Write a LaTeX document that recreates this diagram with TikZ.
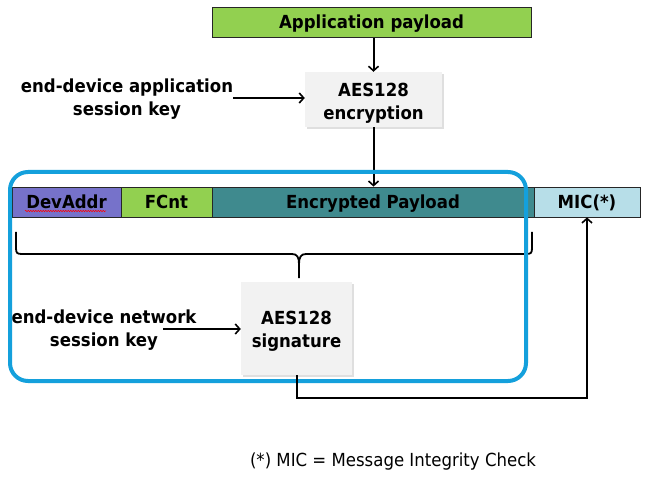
\documentclass[tikz,border=0pt]{standalone}
\usepackage{fontspec}
\setmainfont{DejaVu Sans}[FakeStretch=0.92]
\usetikzlibrary{arrows.meta,shadows,decorations.pathmorphing}
\definecolor{pgreen}{HTML}{92D050}
\definecolor{pdev}{HTML}{7672CA}
\definecolor{pteal}{HTML}{3F8A8E}
\definecolor{pmic}{HTML}{B7DEE8}
\definecolor{pblue}{HTML}{14A0DC}
\definecolor{pgray}{HTML}{F2F2F2}
\tikzset{
  fld/.style={draw=black!85, line width=0.8pt, inner sep=0pt, minimum height=30pt, text height=13pt, text depth=0pt, font=\fontsize{18}{22}\selectfont\bfseries},
  graybox/.style={fill=pgray, inner sep=0pt,
    drop shadow={opacity=0.25, shadow xshift=2pt, shadow yshift=-2pt}},
  lbl/.style={align=center, inner sep=0pt, font=\fontsize{18}{22.5}\selectfont\bfseries},
  conn/.style={line width=2pt, -{Straight Barb[length=4.5pt,width=10pt,line width=1.6pt]}},
  frame/.style={draw=pblue, line width=4pt, rounded corners=18pt},
}
\begin{document}
\begin{tikzpicture}[x=1pt,y=-1pt]
\useasboundingbox[fill=white] (0,0) rectangle (658,478);
% top
\node[fld, fill=pgreen, minimum width=319pt] (app) at (371.5,22.5) {Application payload};
\node[graybox, minimum width=137pt, minimum height=55pt,
  label={[lbl, yshift=-4pt]center:{AES128\\encryption}}] (enc) at (373.5,99.5) {};
\node[lbl] (appkey) at (127,99) {end-device application\\session key};
\draw[conn] (appkey.east |- 0,98) -- (enc.west |- 0,98);
\draw[conn] (app.south -| enc.north) -- (enc.north);
% frame row
\node[fld, fill=pdev, minimum width=109pt] (dev) at (66.5,202) {DevAddr};
\node[fld, fill=pgreen, minimum width=91pt] (fcnt) at (166.5,202) {FCnt};
\node[fld, fill=pteal, minimum width=322pt] (encp) at (373,202) {Encrypted Payload};
\node[fld, fill=pmic, minimum width=106pt] (mic) at (587,202) {MIC(*)};
\draw[red, line width=0.5pt, decorate, decoration={snake, amplitude=0.8pt, segment length=2.5pt}] (25,211) -- (106,211);
\draw[conn] (enc.south) -- (enc.south |- encp.north);
% brace
\draw[line width=1.8pt] (16,232) -- (16,248) .. controls (16,253) and (17,254) .. (22,254) -- (292,254)
  .. controls (297,254) and (299,257) .. (299,264) -- (299,278);
\draw[line width=1.8pt] (299,264) .. controls (299,257) and (301,254) .. (306,254) -- (526,254)
  .. controls (531,254) and (532,253) .. (532,248) -- (532,232);
% signature
\node[graybox, minimum width=111pt, minimum height=93pt,
  label={[lbl, yshift=-3pt]center:{AES128\\signature}}] (sig) at (296.5,328.5) {};
\node[lbl] (netkey) at (104,330) {end-device network\\session key};
\coordinate (nk) at (163,329);
\draw[conn] (nk) -- (sig.west |- nk);
% blue frame
\draw[frame] (10,172) rectangle (526,381);
% feedback
\draw[conn] (sig.south) -- ++(0,23) -| (mic.south);
% footnote
\node[inner sep=0pt, font=\fontsize{18}{22}\selectfont] (note) at (393,462) {(*) MIC = Message Integrity Check};
\end{tikzpicture}
\end{document}
